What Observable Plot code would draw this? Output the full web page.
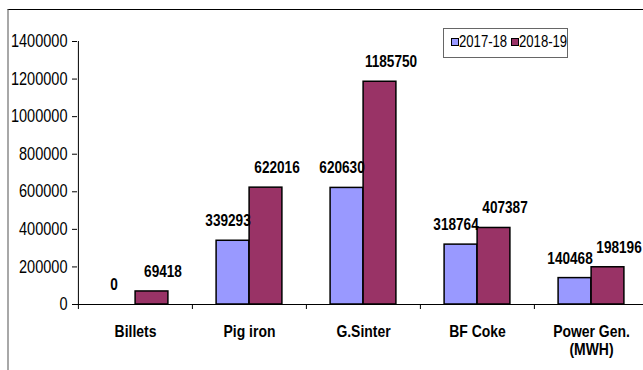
<!DOCTYPE html>
<html>
<head>
<meta charset="utf-8">
<script src="https://cdn.jsdelivr.net/npm/d3@7"></script>
<script src="https://cdn.jsdelivr.net/npm/@observablehq/plot@0.6"></script>
<style>
  html, body { margin: 0; padding: 0; background: #fff; overflow: hidden; }
  #wrap { position: relative; width: 643px; height: 370px; }
  #chart { position: absolute; left: 0; top: 0; }
  #frame { position: absolute; left: 7px; top: 9px; width: 640px; height: 370px;
           border-top: 1.5px solid #000; border-left: 2px solid #a8a8a8; box-sizing: border-box; }
  #legend { position: absolute; left: 443px; top: 28px; width: 125px; height: 30px; box-sizing: border-box;
            border: 1px solid #666; background: #fff; white-space: nowrap;
            font-family: "Liberation Sans", Arial, sans-serif; font-size: 16px; line-height: 16px; color: #000; }
  #legend .sw { position: absolute; top: 9px; width: 6px; height: 6px; border: 1px solid #000; box-sizing: content-box; }
  #legend .lab { position: absolute; top: 5px; transform: scaleX(0.82); transform-origin: left center; }
</style>
</head>
<body>
<div id="wrap">
  <div id="frame"></div>
  <div id="chart"></div>
  <div id="legend"></div>
</div>
<script>
const categories = ["Billets", "Pig iron", "G.Sinter", "BF Coke", "Power Gen.\n(MWH)"];
const series = ["2017-18", "2018-19"];
const values2017 = [0, 339293, 620630, 318764, 140468];
const values2018 = [69418, 622016, 1185750, 407387, 198196];
const yTicks = [0, 200000, 400000, 600000, 800000, 1000000, 1200000, 1400000];
const colors = ["#9999FF", "#993366"];

const W = 643, H = 370;
const mL = 77, mR = -5, mT = 41, mB = 66;
const bw = (W - mR - mL) / categories.length;
const half = bw / 2;
const barW = 33;

const data = [];
categories.forEach((c, i) => {
  data.push({cat: c, series: series[0], value: values2017[i]});
  data.push({cat: c, series: series[1], value: values2018[i]});
});
const d17 = data.filter(d => d.series === series[0]);
const d18 = data.filter(d => d.series === series[1]);

const font = "'Liberation Sans', Arial, sans-serif";

const plot = Plot.plot({
  width: W, height: H,
  marginLeft: mL, marginRight: mR, marginTop: mT, marginBottom: mB,
  style: {fontFamily: font, background: "transparent", overflow: "visible"},
  x: {domain: categories, padding: 0, axis: null},
  y: {domain: [0, 1400000], axis: null},
  color: {domain: series, range: colors},
  marks: [
    Plot.axisY({ticks: yTicks, tickSize: 5, tickPadding: 5, tickFormat: d3.format("d"),
                fontSize: 17.5, stroke: "#000", label: null, className: "sq83"}),
    Plot.ruleX(categories.slice(0, 1), {x: d => d, y1: 0, y2: 1400000, dx: -half, stroke: "#000"}),
    Plot.axisX({tickSize: 5, tickFormat: () => "", dx: -half, stroke: "#000", label: null}),
    Plot.axisX({tickSize: 0, tickPadding: 19, fontSize: 17, fontWeight: "bold", lineHeight: 1.1,
                label: null, className: "sq82"}),
    Plot.barY(d17, {x: "cat", y: "value", fill: "series", stroke: "#000", strokeWidth: 1.5,
                    insetLeft: half - barW, insetRight: half}),
    Plot.barY(d18, {x: "cat", y: "value", fill: "series", stroke: "#000", strokeWidth: 1.5,
                    insetLeft: half, insetRight: half - barW}),
    Plot.ruleY([0], {stroke: "#000", strokeWidth: 1}),
    Plot.text(d17, {x: "cat", y: "value", text: d => String(d.value), dx: -(barW / 2) - 5, dy: -20,
                    lineAnchor: "middle", fontSize: 17, fontWeight: "bold", fill: "#000", className: "sq80"}),
    Plot.text(d18, {x: "cat", y: "value", text: d => String(d.value), dx: (barW / 2) + 11, dy: -20,
                    lineAnchor: "middle", fontSize: 17, fontWeight: "bold", fill: "#000", className: "sq80"})
  ]
});
document.getElementById("chart").appendChild(plot);

// horizontally condense texts (narrow look of the original)
function squeeze(cls, k) {
  plot.querySelectorAll("." + cls + " text").forEach(t => {
    const leaves = t.querySelectorAll("tspan");
    const targets = leaves.length ? Array.from(leaves) : [t];
    targets.forEach(el => {
      const len = el.getComputedTextLength();
      if (len > 0) {
        el.setAttribute("textLength", (len * k).toFixed(2));
        el.setAttribute("lengthAdjust", "spacingAndGlyphs");
      }
    });
  });
}
squeeze("sq83", 0.83);
squeeze("sq82", 0.82);
squeeze("sq80", 0.80);

const leg = document.getElementById("legend");
const swLeft = [7, 67], labLeft = [15, 75];
series.forEach((s, i) => {
  const sw = document.createElement("span");
  sw.className = "sw";
  sw.style.left = swLeft[i] + "px";
  sw.style.background = colors[i];
  leg.appendChild(sw);
  const lab = document.createElement("span");
  lab.className = "lab";
  lab.style.left = labLeft[i] + "px";
  lab.textContent = s;
  leg.appendChild(lab);
});
</script>
</body>
</html>
